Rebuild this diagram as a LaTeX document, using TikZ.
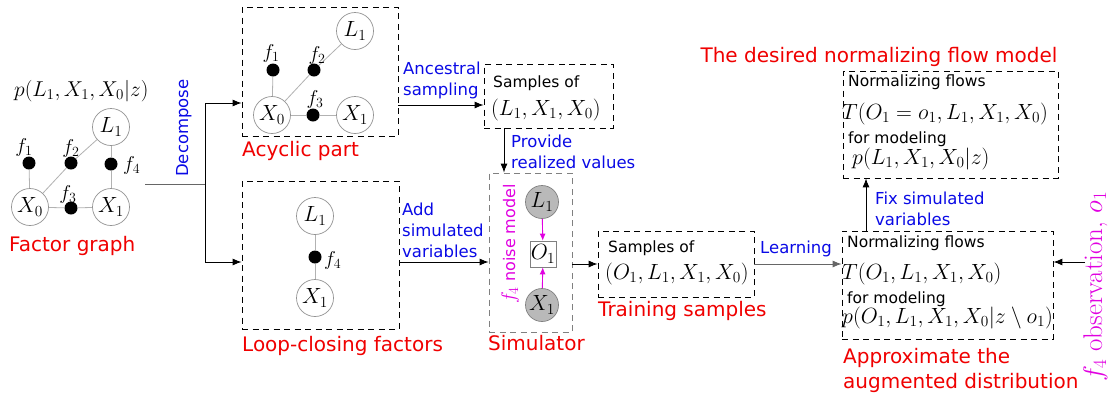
\RequirePackage{fix-cm}
\documentclass[tikz,border=0pt]{standalone}
\usepackage{fontspec}
\newfontfamily\dv{DejaVu Sans}
\usetikzlibrary{arrows.meta}
\definecolor{mag}{RGB}{225,0,225}
\definecolor{myred}{RGB}{240,0,0}
\definecolor{myblue}{RGB}{10,10,230}
\tikzset{
  var/.style={circle,draw=gray!85,line width=0.7pt,fill=white,minimum size=37pt,inner sep=0pt,font=\fontsize{22}{24}\selectfont},
  gvar/.style={circle,draw=gray,line width=0.7pt,fill=gray!55,minimum size=33pt,inner sep=0pt,font=\fontsize{22}{24}\selectfont},
  obox/.style={rectangle,draw=gray,line width=0.7pt,fill=white,minimum size=26pt,inner sep=0pt,font=\fontsize{22}{24}\selectfont},
  fac/.style={circle,fill=black,minimum size=13pt,inner sep=0pt},
  flab/.style={inner sep=0pt,font=\fontsize{20}{20}\selectfont},
  edge/.style={draw=gray!60,line width=0.8pt},
  dbox/.style={draw,line width=0.8pt,dash pattern=on 6pt off 4.5pt,inner sep=0pt},
  redt/.style={text=myred,font=\dv\fontsize{20}{24}\selectfont,inner sep=0pt,anchor=base west},
  bluet/.style={text=myblue,font=\dv\fontsize{16.5}{21}\selectfont,inner sep=0pt,align=left},
  blackt/.style={font=\dv\fontsize{15.5}{18}\selectfont,inner sep=0pt,anchor=base west},
  mathb/.style={font=\fontsize{22}{24}\selectfont,inner sep=0pt,anchor=base west},
  arr/.style={-{Latex[length=9pt,width=7pt]},line width=0.9pt},
  marr/.style={-{Latex[length=7pt,width=6pt]},line width=0.9pt,draw=mag},
}
\begin{document}
\begin{tikzpicture}[x=1pt,y=-1pt]
\useasboundingbox[fill=white] (0,0) rectangle (1110,397);

% ---------- Factor graph ----------
\node[mathb,font=\fontsize{21.5}{24}\selectfont] (t0) at (14,96) {$p(L_1,X_1,X_0|z)$};
\node[fac] (ff1) at (29,163) {};
\node[fac] (ff2) at (71,163) {};
\node[fac] (ff4) at (111,164) {};
\node[fac] (ff3) at (71,208) {};
\node[var] (fL) at (111,127) {$L_1$};
\node[var] (fX0) at (30,207) {$X_0$};
\node[var] (fX1) at (111,207) {$X_1$};
\draw[edge] (fX0) -- (ff1);
\draw[edge] (fX0) -- (ff2) -- (fL);
\draw[edge] (fX0) -- (ff3) -- (fX1);
\draw[edge] (fL) -- (ff4) -- (fX1);
\node[flab] (ff1l) at (24,147) {$f_1$};
\node[flab] (ff2l) at (71,148) {$f_2$};
\node[flab] (ff3l) at (68,194) {$f_3$};
\node[flab,anchor=west] (ff4l) at (123,165) {$f_4$};
\node[redt] (fgt) at (9,251.5) {Factor graph};

% ---------- Decompose ----------
\coordinate (d0) at (145,184);
\coordinate (dj) at (205,184);
\coordinate (dt) at (205,103);
\coordinate (db) at (205,262);
\draw[gray!80!black,line width=0.9pt] (d0) -- (dj);
\draw[line width=0.9pt] (dt) -- (db);
\node[bluet,rotate=90,anchor=base west] (dec) at (188,177) {Decompose};

% ---------- Acyclic part ----------
\node[dbox,minimum width=156pt,minimum height=129pt] (acy) at (320,71.5) {};
\node[fac] (af1) at (273,70) {};
\node[fac] (af2) at (314,70) {};
\node[fac] (af3) at (313,115) {};
\node[var] (aL) at (355,31) {$L_1$};
\node[var] (aX0) at (272,115) {$X_0$};
\node[var] (aX1) at (355,115) {$X_1$};
\draw[edge] (aX0) -- (af1);
\draw[edge] (aX0) -- (af2) -- (aL);
\draw[edge] (aX0) -- (af3) -- (aX1);
\node[flab] (af1l) at (271,53) {$f_1$};
\node[flab] (af2l) at (317,55) {$f_2$};
\node[flab] (af3l) at (315,99) {$f_3$};
\node[redt] (acyt) at (242,156.5) {Acyclic part};
\draw[arr] (dt) -- (dt -| acy.west);

% ---------- Loop-closing factors ----------
\node[dbox,minimum width=157pt,minimum height=148pt] (loop) at (320.5,255) {};
\node[fac] (lf4) at (315,257) {};
\node[var] (lL) at (315,216) {$L_1$};
\node[var] (lX) at (315,298) {$X_1$};
\draw[edge] (lL) -- (lf4) -- (lX);
\node[flab,anchor=west] (lf4l) at (324,260) {$f_4$};
\node[redt] (loopt) at (242,351.5) {Loop-closing factors};
\draw[arr] (db) -- (db -| loop.west);

% ---------- Samples of (L1,X1,X0) ----------
\node[dbox,minimum width=129pt,minimum height=64pt] (smp) at (548.5,96) {};
\node[blackt] (smpa) at (493,87) {Samples of};
\node[mathb] (smpb) at (491,115) {$(L_1,X_1,X_0)$};
\draw[arr] ([yshift=-33.5pt]acy.east) -- ([yshift=-33.5pt]acy.east -| smp.west);
\node[bluet,anchor=base west] (anc) at (403,95) {Ancestral\\sampling};

% ---------- Simulator ----------
\node[dbox,draw=gray,minimum width=83pt,minimum height=159pt] (sim) at (530.5,252.5) {};
\node[gvar] (sL) at (542,202) {$L_1$};
\node[obox] (sO) at (543,254) {$O_1$};
\node[gvar] (sX) at (542,305) {$X_1$};
\draw[marr] (sL) -- (sO);
\draw[marr] (sX) -- (sO);
\node[text=mag,font=\dv\fontsize{16}{20}\selectfont,inner sep=0pt,rotate=90,anchor=base west] (snm) at (515,304) {{\fontsize{20}{20}\selectfont$f_4$} noise model};
\node[redt] (simt) at (488,350) {Simulator};
\draw[arr] ([xshift=-44.5pt]smp.south) -- ([xshift=-44.5pt]smp.south |- sim.north);
\node[bluet,anchor=base west] (prv) at (511,168) {Provide\\realized values};
\draw[arr] ([yshift=-7pt]loop.east) -- ([yshift=-7pt]loop.east -| sim.west);
\node[bluet,anchor=base west] (add) at (402,257) {Add\\simulated\\variables};

% ---------- Training samples ----------
\node[dbox,minimum width=156pt,minimum height=66pt] (trn) at (676,264) {};
\node[blackt] (trna) at (608,252.5) {Samples of};
\node[mathb] (trnb) at (605,279) {$(O_1,L_1,X_1,X_0)$};
\node[redt] (trnt) at (598,316.5) {Training samples};
\draw[arr] (sim.east |- trn.west) -- (trn.west);

% ---------- Normalizing flows (augmented) ----------
\node[dbox,minimum width=211pt,minimum height=108pt] (nf2) at (947.5,285) {};
\node[blackt] (nf2a) at (847,247) {Normalizing flows};
\node[mathb] (nf2b) at (842,279) {$T(O_1,L_1,X_1,X_0)$};
\node[blackt] (nf2c) at (847,303) {for modeling};
\node[mathb] (nf2d) at (842,323) {$p(O_1,L_1,X_1,X_0|z\setminus o_1)$};
\node[redt] (nf2t1) at (843,363) {Approximate the};
\node[redt] (nf2t2) at (843,388) {augmented distribution};
\draw[arr,draw=gray!80!black] (trn.east) -- (trn.east -| nf2.west);
\node[bluet,anchor=base west] (lrn) at (760,253) {Learning};

% ---------- Normalizing flows (desired) ----------
\node[dbox,minimum width=215pt,minimum height=107pt] (nf1) at (950.5,124.5) {};
\node[blackt] (nf1a) at (848,86.5) {Normalizing flows};
\node[mathb] (nf1b) at (842,119) {$T(O_1=o_1,L_1,X_1,X_0)$};
\node[blackt] (nf1c) at (848,143) {for modeling};
\node[mathb] (nf1d) at (852,164) {$p(L_1,X_1,X_0|z)$};
\node[redt,anchor=base] (ttl) at (879,62) {The desired normalizing flow model};
\draw[arr] ([xshift=-81.5pt]nf2.north) -- ([xshift=-81.5pt]nf2.north |- nf1.south);
\node[bluet,anchor=base west] (fix) at (875,225) {Fix simulated\\variables};

% ---------- Observation ----------
\coordinate (obs) at (1085,262);
\draw[arr] (obs) -- (obs -| nf2.east);
\node[text=mag,font=\fontsize{27}{30}\selectfont,inner sep=0pt,rotate=90,anchor=base west] (obst) at (1102,382) {$f_4$ observation, $o_1$};
\end{tikzpicture}
\end{document}
